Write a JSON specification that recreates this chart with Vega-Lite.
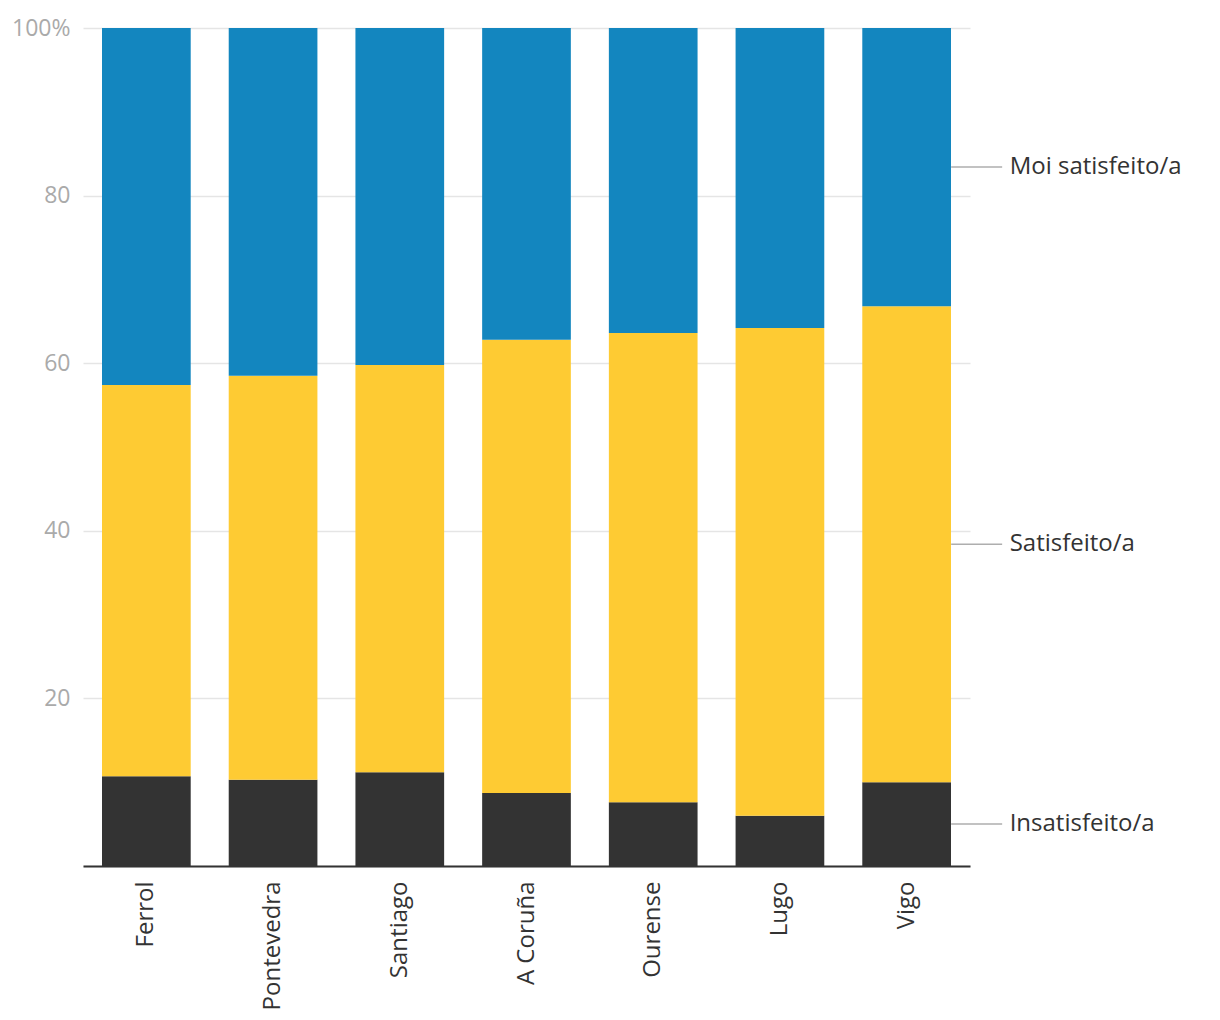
{
  "$schema": "https://vega.github.io/schema/vega-lite/v6.json",
  "width": 887,
  "height": 838,
  "autosize": {"type": "none"},
  "padding": {"left": 83, "top": 28, "right": 250, "bottom": 154},
  "config": {
    "view": {"stroke": null},
    "font": "Open Sans"
  },
  "data": {
    "values": [
      {"city": "Ferrol", "category": "Insatisfeito/a", "value": 10.7, "order": 1},
      {"city": "Ferrol", "category": "Satisfeito/a", "value": 46.7, "order": 2},
      {"city": "Ferrol", "category": "Moi satisfeito/a", "value": 42.6, "order": 3},
      {"city": "Pontevedra", "category": "Insatisfeito/a", "value": 10.3, "order": 1},
      {"city": "Pontevedra", "category": "Satisfeito/a", "value": 48.2, "order": 2},
      {"city": "Pontevedra", "category": "Moi satisfeito/a", "value": 41.5, "order": 3},
      {"city": "Santiago", "category": "Insatisfeito/a", "value": 11.2, "order": 1},
      {"city": "Santiago", "category": "Satisfeito/a", "value": 48.6, "order": 2},
      {"city": "Santiago", "category": "Moi satisfeito/a", "value": 40.2, "order": 3},
      {"city": "A Coruña", "category": "Insatisfeito/a", "value": 8.7, "order": 1},
      {"city": "A Coruña", "category": "Satisfeito/a", "value": 54.1, "order": 2},
      {"city": "A Coruña", "category": "Moi satisfeito/a", "value": 37.2, "order": 3},
      {"city": "Ourense", "category": "Insatisfeito/a", "value": 7.6, "order": 1},
      {"city": "Ourense", "category": "Satisfeito/a", "value": 56.0, "order": 2},
      {"city": "Ourense", "category": "Moi satisfeito/a", "value": 36.4, "order": 3},
      {"city": "Lugo", "category": "Insatisfeito/a", "value": 6.0, "order": 1},
      {"city": "Lugo", "category": "Satisfeito/a", "value": 58.2, "order": 2},
      {"city": "Lugo", "category": "Moi satisfeito/a", "value": 35.8, "order": 3},
      {"city": "Vigo", "category": "Insatisfeito/a", "value": 10.0, "order": 1},
      {"city": "Vigo", "category": "Satisfeito/a", "value": 56.8, "order": 2},
      {"city": "Vigo", "category": "Moi satisfeito/a", "value": 33.2, "order": 3}
    ]
  },
  "layer": [
    {
      "mark": {"type": "bar"},
      "encoding": {
        "x": {
          "field": "city",
          "type": "nominal",
          "sort": null,
          "scale": {"paddingInner": 0.3, "paddingOuter": 0.15},
          "axis": {
            "title": null,
            "domainColor": "#333333",
            "domainWidth": 2,
            "ticks": false,
            "labelAngle": -90,
            "labelColor": "#333333",
            "labelFontSize": 24,
            "labelPadding": 15,
            "labelFont": "Open Sans"
          }
        },
        "y": {
          "field": "value",
          "type": "quantitative",
          "stack": "zero",
          "scale": {"domain": [0, 100], "nice": false},
          "axis": {
            "title": null,
            "values": [0, 20, 40, 60, 80, 100],
            "labelExpr": "datum.value == 0 ? '' : (datum.value == 100 ? '100%' : datum.label)",
            "domain": false,
            "ticks": false,
            "gridColor": "#e5e5e5",
            "gridWidth": 1.5,
            "labelColor": "#aaaaaa",
            "labelFontSize": 23,
            "labelPadding": 13,
            "labelFont": "Open Sans"
          }
        },
        "color": {
          "field": "category",
          "type": "nominal",
          "scale": {
            "domain": ["Insatisfeito/a", "Satisfeito/a", "Moi satisfeito/a"],
            "range": ["#333333", "#FECB33", "#1386BF"]
          },
          "legend": null
        },
        "order": {"field": "order", "type": "quantitative"}
      }
    },
    {
      "transform": [
        {"filter": "datum.city == 'Vigo'"},
        {"stack": "value", "groupby": ["city"], "sort": [{"field": "order"}], "as": ["v0", "v1"]},
        {"calculate": "(datum.v0 + datum.v1) / 2", "as": "mid"}
      ],
      "mark": {"type": "tick", "orient": "horizontal", "size": 51, "thickness": 1.5, "xOffset": 70, "color": "#8c8c8c"},
      "encoding": {
        "x": {"field": "city", "type": "nominal", "sort": null},
        "y": {"field": "mid", "type": "quantitative", "stack": null}
      }
    },
    {
      "transform": [
        {"filter": "datum.city == 'Vigo'"},
        {"stack": "value", "groupby": ["city"], "sort": [{"field": "order"}], "as": ["v0", "v1"]},
        {"calculate": "(datum.v0 + datum.v1) / 2", "as": "mid"}
      ],
      "mark": {"type": "text", "align": "left", "baseline": "middle", "dx": 103, "fontSize": 24, "color": "#333333", "font": "Open Sans"},
      "encoding": {
        "x": {"field": "city", "type": "nominal", "sort": null},
        "y": {"field": "mid", "type": "quantitative", "stack": null},
        "text": {"field": "category", "type": "nominal"}
      }
    }
  ]
}
